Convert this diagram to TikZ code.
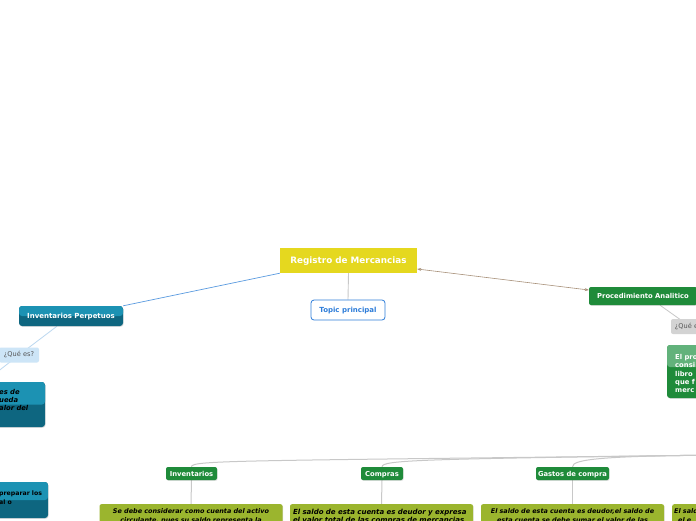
\documentclass[tikz,border=0pt]{standalone}
\usepackage{fontspec}
\setmainfont{DejaVu Sans}
\usetikzlibrary{arrows.meta,shadows,backgrounds}
\pgfdeclarelayer{bottom}
\pgfsetlayers{bottom,background,main}
\definecolor{cyel}{HTML}{E5D81F}
\definecolor{cblue}{HTML}{2E7DD9}
\definecolor{tealA}{HTML}{1C92B3}
\definecolor{tealB}{HTML}{0E6680}
\definecolor{cgreen}{HTML}{1F8B3A}
\definecolor{cgreenL}{HTML}{62B27B}
\definecolor{colive}{HTML}{9BB52E}
\definecolor{clink}{HTML}{5A9BE0}
\definecolor{ctan}{HTML}{A8917A}
\definecolor{cgray}{HTML}{C8C8C8}
\definecolor{qblue}{HTML}{CDE5F7}
\definecolor{qline}{HTML}{BCD8F0}
\definecolor{qgray}{HTML}{D3D3D3}
\definecolor{qtext}{HTML}{555555}
\tikzset{
  sh/.style={drop shadow={opacity=0.25,shadow xshift=0.6pt,shadow yshift=-0.8pt}},
  twotone/.style n args={3}{fill=#2,path picture={\fill[#1] (path picture bounding box.north west) rectangle ([yshift=#3]path picture bounding box.east);}},
  central/.style={fill=cyel, text=white, font=\fontsize{8.8}{10}\selectfont\bfseries, minimum width=137pt, minimum height=25pt, inner sep=0pt, text depth=0pt},
  topic/.style={draw=cblue, line width=0.8pt, fill=white, rounded corners=3pt, text=cblue, font=\fontsize{7}{8}\selectfont\bfseries, minimum width=74pt, minimum height=20pt, inner sep=0pt, text depth=0pt},
  tealbox/.style={twotone={tealA}{tealB}{0pt}, rounded corners=3pt, sh, inner sep=0pt, text depth=0pt},
  greenbox/.style={fill=cgreen, rounded corners=2pt, sh, text=white, font=\fontsize{6.8}{8}\selectfont\bfseries, inner sep=0pt, text depth=0pt},
  qlabel/.style={rounded corners=2pt, text=qtext, font=\fontsize{6.6}{7}\selectfont, inner sep=0pt, minimum height=15pt},
  olive/.style={fill=colive, rounded corners=2pt, sh, anchor=north, inner xsep=4pt, inner ysep=4.5pt, text width=175pt, font=\fontsize{6.45}{8.6}\selectfont\bfseries\itshape},
  frag/.style={inner sep=0pt, align=left},
  gline/.style={cgray, line width=1pt},
}
\begin{document}
\begin{tikzpicture}[x=1pt,y=-1pt]
\useasboundingbox (0,0) rectangle (696,520);
\begin{pgfonlayer}{bottom}
\fill[white] (0,0) rectangle (696,520);
\end{pgfonlayer}
% main nodes
\node[central] (reg) at (348.5,260.5) {Registro de Mercancias};
\node[topic] (topic) at (348,310) {Topic principal};
\node[tealbox, minimum width=104pt, minimum height=20pt, text=white, font=\fontsize{7}{8}\selectfont\bfseries] (ip) at (71,316) {Inventarios Perpetuos};
\node[qlabel, fill=qblue, minimum width=40pt] (q1) at (19,355) {¿Qué es?};
\node[tealbox, minimum width=80pt, minimum height=45pt] (ipd) at (5,404.5) {};
\node[frag, anchor=west, font=\fontsize{6.8}{8}\selectfont\bfseries\itshape] (ipdt) at (-1,400) {es de\\ueda\\alor del};
\node[tealbox, minimum width=88pt, minimum height=36pt] (ipd2) at (4,500) {};
\node[frag, anchor=west, font=\fontsize{6.2}{9}\selectfont\bfseries] (ipd2t) at (-1,497.5) {preparar los\\al o};
\node[greenbox, minimum width=108pt, minimum height=18pt] (pa) at (643,296) {Procedimiento Analitico};
\node[qlabel, fill=qgray, minimum width=38pt] (q2) at (690,326.5) {¿Qué es?};
\node[twotone={cgreenL}{cgreen}{4.5pt}, rounded corners=3pt, sh, minimum width=60pt, minimum height=53pt, inner sep=0pt] (pad) at (697,371.5) {};
\node[frag, anchor=west, text=white, font=\fontsize{6.8}{8.25}\selectfont\bfseries] (padt) at (675,373.5) {El pro\\consi\\libro\\que f\\merc};
% bottom labels
\node[greenbox, minimum width=51pt, minimum height=13pt] (inv) at (191.5,473.5) {Inventarios};
\node[greenbox, minimum width=42pt, minimum height=13pt] (com) at (382,473.5) {Compras};
\node[greenbox, minimum width=73pt, minimum height=13pt] (gas) at (572.5,473.5) {Gastos de compra};
\node[olive, align=center] (invd) at (191,504) {Se debe considerar como cuenta del activo\\circulante, pues su saldo representa la};
\node[olive, align=left, font=\fontsize{7}{8.6}\selectfont\bfseries\itshape, inner xsep=3pt, text width=177pt] (comd) at (381.5,504) {El saldo de esta cuenta es deudor y expresa\\el valor total de las compras de mercancias};
\node[olive, align=center] (gasd) at (572.5,504) {El saldo de esta cuenta es deudor,el saldo de\\esta cuenta se debe sumar el valor de las};
\node[olive, anchor=north west, align=left, text width=60pt, inner xsep=2pt] (x4) at (672,504) {El sald\\\hspace*{4pt}el e};
\coordinate (hub) at (720,455);
\coordinate (qend) at (-8,376);
% connectors
\begin{scope}[on background layer]
\draw[clink, line width=0.7pt] (reg.south west) -- (ip.north east);
\draw[cgray, line width=0.9pt] (reg.south) -- (topic.north);
\draw[ctan, line width=0.6pt, {Stealth[length=4pt,width=3pt]}-{Stealth[length=4pt,width=3pt]}] ([yshift=-8.5pt]reg.east) -- ([yshift=6pt]pa.west);
\draw[qline, line width=0.8pt] ([xshift=-14pt]ip.south) -- (q1.center) -- (qend);
\draw[cgray, line width=0.8pt] ([xshift=17pt]pa.south) -- (q2.center);
\draw[gline] (hub) .. controls (240,461) and (191,460) .. (inv.north);
\draw[gline] (hub) .. controls (420,459) and (382,460) .. (com.north);
\draw[gline] (hub) .. controls (605,456) and (572,459) .. (gas.north);
\draw[gline] (inv.south) -- (invd.north);
\draw[gline] (com.south) -- (comd.north);
\draw[gline] (gas.south) -- (gasd.north);
\end{scope}
\end{tikzpicture}
\end{document}
